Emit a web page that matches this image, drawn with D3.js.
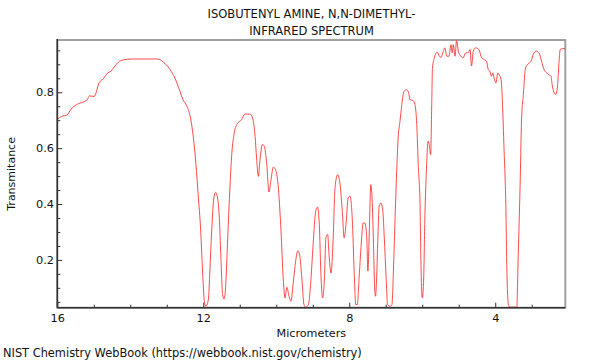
<!DOCTYPE html>
<html>
<head>
<meta charset="utf-8">
<script src="https://cdn.jsdelivr.net/npm/d3@7"></script>
<style>
  html, body { margin: 0; padding: 0; background: #fff; }
  svg { display: block; font-family: "DejaVu Sans", sans-serif; }
</style>
</head>
<body>
<svg id="chart" width="600" height="360"></svg>
<script>
// Wavelength in micrometers (descending)
const wavelength = [
  16.00, 15.88, 15.74, 15.62, 15.47, 15.29, 15.18, 15.12, 14.99, 14.85,
  14.74, 14.62, 14.53, 14.45, 14.33, 14.19, 13.96, 13.28, 13.14, 13.05,
  12.91, 12.78, 12.64, 12.56, 12.45, 12.35, 12.27, 12.20, 12.14, 12.07,
  12.02, 11.97, 11.93, 11.86, 11.82, 11.77, 11.71, 11.66, 11.61, 11.56,
  11.52, 11.47, 11.43, 11.39, 11.33, 11.27, 11.22, 11.16, 11.07, 10.95,
  10.86, 10.72, 10.65, 10.58, 10.54, 10.49, 10.45, 10.38, 10.33, 10.26,
  10.20, 10.15, 10.08, 10.02, 9.95, 9.87, 9.81, 9.76, 9.71, 9.65,
  9.60, 9.53, 9.47, 9.41, 9.36, 9.30, 9.24, 9.19, 9.12, 9.06,
  8.99, 8.92, 8.87, 8.82, 8.78, 8.73, 8.68, 8.64, 8.59, 8.56,
  8.50, 8.44, 8.39, 8.32, 8.25, 8.19, 8.14, 8.09, 8.03, 7.98,
  7.91, 7.86, 7.82, 7.78, 7.73, 7.66, 7.62, 7.57, 7.52, 7.49,
  7.45, 7.41, 7.38, 7.34, 7.30, 7.28, 7.25, 7.21, 7.18, 7.13,
  7.08, 7.04, 6.99, 6.95, 6.88, 6.83, 6.79, 6.75, 6.70, 6.66,
  6.61, 6.56, 6.50, 6.43, 6.37, 6.34, 6.25, 6.20, 6.15, 6.11,
  6.06, 6.04, 6.00, 5.96, 5.93, 5.88, 5.84, 5.81, 5.77, 5.74,
  5.72, 5.67, 5.62, 5.59, 5.53, 5.49, 5.42, 5.38, 5.33, 5.27,
  5.21, 5.18, 5.15, 5.10, 5.06, 5.01, 4.94, 4.88, 4.81, 4.74,
  4.69, 4.65, 4.60, 4.54, 4.45, 4.37, 4.30, 4.24, 4.19, 4.15,
  4.10, 4.07, 4.03, 3.98, 3.93, 3.89, 3.84, 3.80, 3.76, 3.71,
  3.68, 3.64, 3.60, 3.41, 3.37, 3.32, 3.28, 3.23, 3.17, 3.10,
  3.02, 2.94, 2.87, 2.80, 2.73, 2.66, 2.59, 2.53, 2.47, 2.44,
  2.38, 2.34, 2.29, 2.25, 2.22, 2.16, 2.09
];
// Transmittance
const transmittance = [
  0.702, 0.714, 0.718, 0.740, 0.756, 0.765, 0.773, 0.787, 0.785, 0.835,
  0.848, 0.869, 0.875, 0.889, 0.907, 0.916, 0.919, 0.919, 0.913, 0.903,
  0.881, 0.851, 0.804, 0.774, 0.750, 0.708, 0.636, 0.541, 0.434, 0.303,
  0.160, 0.052, 0.034, 0.058, 0.160, 0.303, 0.422, 0.442, 0.422, 0.350,
  0.219, 0.076, 0.060, 0.100, 0.279, 0.458, 0.577, 0.648, 0.687, 0.702,
  0.722, 0.722, 0.708, 0.642, 0.565, 0.499, 0.553, 0.613, 0.607, 0.541,
  0.443, 0.482, 0.532, 0.523, 0.469, 0.303, 0.136, 0.064, 0.102, 0.070,
  0.052, 0.124, 0.195, 0.233, 0.219, 0.136, 0.040, 0.031, 0.040, 0.112,
  0.255, 0.374, 0.389, 0.326, 0.160, 0.064, 0.136, 0.279, 0.291, 0.231,
  0.153, 0.279, 0.458, 0.505, 0.469, 0.374, 0.279, 0.326, 0.422, 0.428,
  0.326, 0.136, 0.040, 0.040, 0.136, 0.279, 0.332, 0.332, 0.279, 0.160,
  0.303, 0.469, 0.434, 0.279, 0.088, 0.070, 0.136, 0.303, 0.392, 0.404,
  0.374, 0.279, 0.136, 0.040, 0.034, 0.040, 0.160, 0.326, 0.517, 0.636,
  0.696, 0.756, 0.803, 0.809, 0.797, 0.774, 0.770, 0.756, 0.684, 0.541,
  0.398, 0.219, 0.064, 0.136, 0.338, 0.541, 0.625, 0.613, 0.577, 0.756,
  0.887, 0.923, 0.941, 0.944, 0.929, 0.925, 0.947, 0.959, 0.929, 0.929,
  0.970, 0.941, 0.970, 0.929, 0.985, 0.947, 0.929, 0.923, 0.941, 0.941,
  0.953, 0.894, 0.947, 0.959, 0.953, 0.923, 0.917, 0.911, 0.881, 0.875,
  0.857, 0.869, 0.851, 0.833, 0.869, 0.863, 0.845, 0.756, 0.601, 0.398,
  0.160, 0.040, 0.031, 0.031, 0.219, 0.458, 0.696, 0.792, 0.887, 0.901,
  0.911, 0.941, 0.947, 0.941, 0.911, 0.881, 0.869, 0.863, 0.857, 0.827,
  0.797, 0.792, 0.827, 0.911, 0.953, 0.956, 0.956
];
const xMajorTicks = [16, 12, 8, 4];
const xMinorTicks = [15, 14, 13, 11, 10, 9, 7, 6, 5, 3];
const yMajorTicks = [0.2, 0.4, 0.6, 0.8];
const yMinorTicks = [0.05, 0.1, 0.15, 0.25, 0.3, 0.35, 0.45, 0.5, 0.55, 0.65, 0.7, 0.75, 0.85, 0.9, 0.95];
const titleLines = ["ISOBUTENYL AMINE, N,N-DIMETHYL-", "INFRARED SPECTRUM"];
const xLabel = "Micrometers";
const yLabel = "Transmitance";
const footer = "NIST Chemistry WebBook (https://webbook.nist.gov/chemistry)";

const L = 57.3, R = 565.3, T = 40, B = 307.7;
const svg = d3.select("#chart");
const x = d3.scaleLinear().domain([16, 2.08]).range([L, R]);
const y = d3.scaleLinear().domain([0.029, 0.987]).range([B, T]);

// frame (top/right gray)
svg.append("rect").attr("x", L).attr("y", T).attr("width", R - L).attr("height", B - T)
  .attr("fill", "none").attr("stroke", "#a0a0a0").attr("stroke-width", 2);

// clip
svg.append("clipPath").attr("id", "clip").append("rect")
  .attr("x", L).attr("y", T).attr("width", R - L).attr("height", B - T);

const data = wavelength.map((w, i) => ({ w, t: transmittance[i] }));
const line = d3.line().x(d => x(d.w)).y(d => y(d.t)).curve(d3.curveMonotoneX);
svg.append("path").datum(data).attr("d", line).attr("clip-path", "url(#clip)")
  .attr("fill", "none").attr("stroke", "#ff2a2a").attr("stroke-width", 0.85);

// axes
const fs = "11.3px";
const gx = svg.append("g").attr("transform", `translate(0,${B})`)
  .call(d3.axisBottom(x).tickValues(xMajorTicks).tickSize(-5).tickPadding(6.5).tickFormat(d3.format("d")));
const gxm = svg.append("g").attr("transform", `translate(0,${B})`)
  .call(d3.axisBottom(x).tickValues(xMinorTicks).tickSize(-3).tickFormat(""));
const gy = svg.append("g").attr("transform", `translate(${L},0)`)
  .call(d3.axisLeft(y).tickValues(yMajorTicks).tickSize(-5).tickPadding(3.3).tickFormat(d3.format(".1f")));
const gym = svg.append("g").attr("transform", `translate(${L},0)`)
  .call(d3.axisLeft(y).tickValues(yMinorTicks).tickSize(-3).tickFormat(""));
[gx, gxm, gy, gym].forEach(g => {
  g.select(".domain").remove();
  g.selectAll("line").attr("stroke", "#333").attr("stroke-width", 1);
  g.selectAll("text").attr("fill", "#111").style("font-size", fs).style("font-family", "DejaVu Sans");
});

// left and bottom axis lines
svg.append("line").attr("x1", L).attr("x2", L).attr("y1", T - 1).attr("y2", B)
  .attr("stroke", "#333").attr("stroke-width", 1.5);
svg.append("line").attr("x1", L).attr("x2", R).attr("y1", B).attr("y2", B)
  .attr("stroke", "#333").attr("stroke-width", 1.5);

// titles and labels
svg.selectAll("text.title").data(titleLines).enter().append("text")
  .attr("class", "title").attr("x", 311.5).attr("y", (d, i) => 17.5 + i * 17)
  .attr("text-anchor", "middle").style("font-size", "11.5px").attr("fill", "#111").text(d => d);
svg.append("text").attr("x", 311.3).attr("y", 337).attr("text-anchor", "middle")
  .style("font-size", "11.2px").attr("fill", "#111").text(xLabel);
svg.append("text").attr("transform", `translate(15,173.9) rotate(-90)`).attr("text-anchor", "middle")
  .style("font-size", "11px").attr("fill", "#111").text(yLabel);
svg.append("text").attr("x", 3).attr("y", 357).style("font-size", "11.4px").attr("fill", "#111").text(footer);
</script>
</body>
</html>
